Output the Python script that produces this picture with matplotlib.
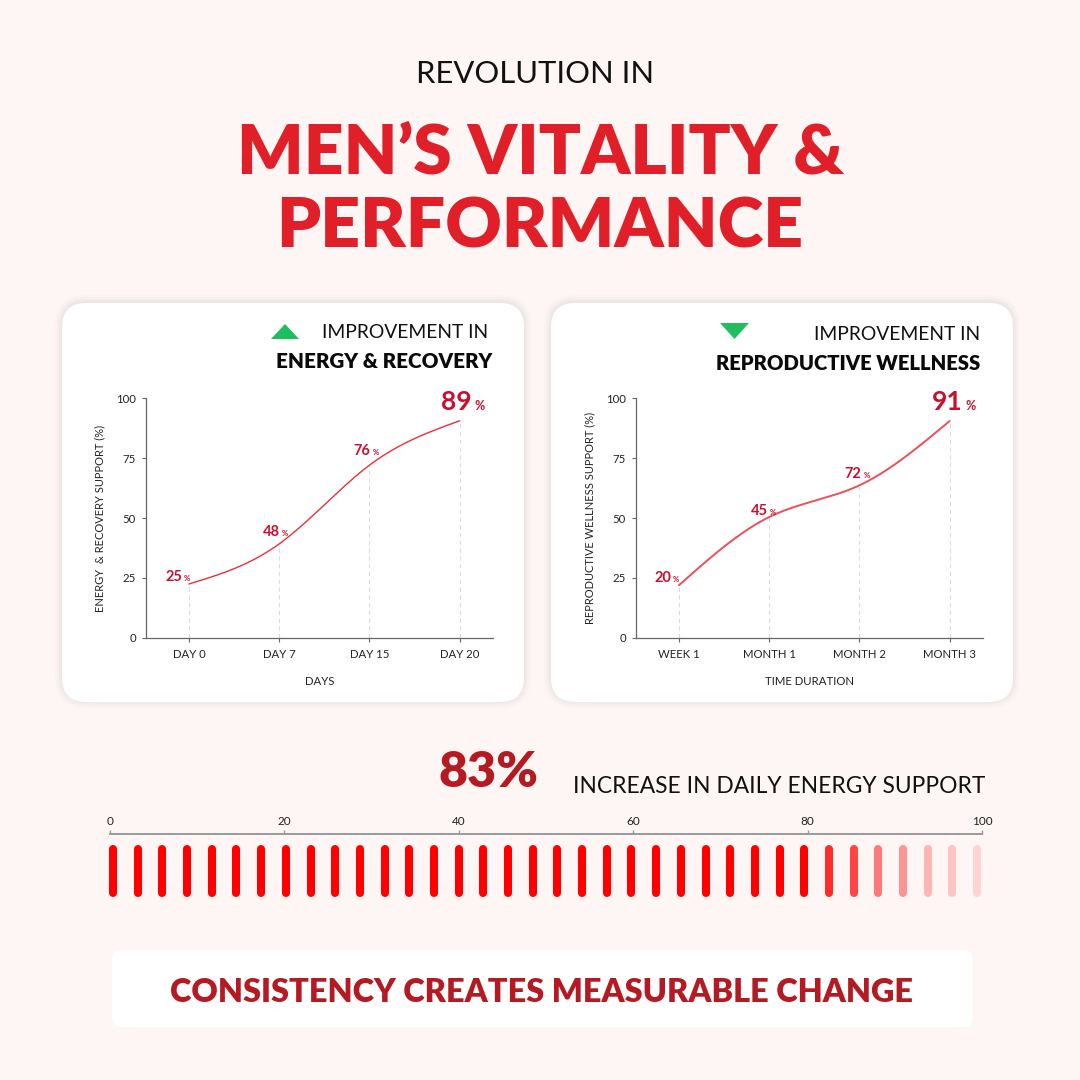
import numpy as np
import matplotlib
matplotlib.use("Agg")
import matplotlib.pyplot as plt
from matplotlib.patches import FancyBboxPatch, Polygon

# ---------------- data ----------------
energy_days = ["DAY 0", "DAY 7", "DAY 15", "DAY 20"]
energy_line = [22.5, 39.2, 72, 90.5]
energy_labels = [25, 48, 76, 89]

repro_periods = ["WEEK 1", "MONTH 1", "MONTH 2", "MONTH 3"]
repro_line = [22, 50.4, 63.6, 90.4]
repro_labels = [20, 45, 72, 91]

yticks = [0, 25, 50, 75, 100]
scale_ticks = [0, 20, 40, 60, 80, 100]
energy_increase = 83
n_bars = 36
tail_alphas = [0.82, 0.72, 0.5, 0.4, 0.26, 0.2, 0.14]

# ---------------- style ----------------
W = 1080
BG = "#FEF6F5"
RED = "#E11F28"
DARKRED = "#B51A22"
LABELRED = "#C8102E"
LINERED = "#E8303A"
GREEN = "#1FBF5F"
FONT = ["Lato", "DejaVu Sans"]

fig = plt.figure(figsize=(10.8, 10.8), dpi=100, facecolor=BG)


def fx(px):
    return px / W


def fy(py):
    return 1 - py / W


def ftext(x, y, s, **kw):
    kw.setdefault("family", FONT)
    return fig.text(fx(x), fy(y), s, **kw)


def card(x0, y0, x1, y1, r=24, shadow=True):
    if shadow:
        for e, a in [(7, 0.02), (5, 0.03), (3, 0.04), (1.5, 0.05)]:
            p = FancyBboxPatch((fx(x0 - e), fy(y1 + e - 1)), (x1 - x0 + 2 * e) / W,
                               (y1 - y0 + 2 * e) / W,
                               boxstyle=f"round,pad=0,rounding_size={(r + e) / W}",
                               transform=fig.transFigure, facecolor="#8a8a8a",
                               alpha=a, edgecolor="none", zorder=0)
            fig.add_artist(p)
    p = FancyBboxPatch((fx(x0), fy(y1)), (x1 - x0) / W, (y1 - y0) / W,
                       boxstyle=f"round,pad=0,rounding_size={r / W}",
                       transform=fig.transFigure, facecolor="white",
                       edgecolor="none", zorder=0.5)
    fig.add_artist(p)


def natural_spline(y, n=300):
    """Smooth rendering of a series: natural cubic spline through its points."""
    y = np.asarray(y, float)
    k = len(y)
    x = np.arange(k, dtype=float)
    A = np.zeros((k, k))
    b = np.zeros(k)
    A[0, 0] = A[-1, -1] = 1
    for i in range(1, k - 1):
        A[i, i - 1], A[i, i], A[i, i + 1] = 1, 4, 1
        b[i] = 6 * (y[i + 1] - 2 * y[i] + y[i - 1])
    M = np.linalg.solve(A, b)
    xs = np.linspace(x[0], x[-1], n)
    idx = np.clip(np.floor(xs).astype(int), 0, k - 2)
    t = xs - x[idx]
    u = 1 - t
    ys = (M[idx] * u**3 / 6 + M[idx + 1] * t**3 / 6
          + (y[idx] - M[idx] / 6) * u + (y[idx + 1] - M[idx + 1] / 6) * t)
    return xs, ys


# ---------------- titles ----------------
ftext(535, 83, "REVOLUTION IN", ha="center", va="baseline", fontsize=22.3, color="#111111")
ftext(541, 173, "MEN’S VITALITY &", ha="center", va="baseline", fontsize=50,
      fontweight="heavy", color=RED)
ftext(540, 247, "PERFORMANCE", ha="center", va="baseline", fontsize=50,
      fontweight="heavy", color=RED)

# ---------------- cards ----------------
card(62, 303, 524, 702)
card(551, 303, 1013, 702)


def line_panel(ax_px, cats, line, labels, xlabel, ylabel, offsets, lw, alpha):
    x0, y0, x1, y1 = ax_px
    ax = fig.add_axes([fx(x0), fy(y1), (x1 - x0) / W, (y1 - y0) / W])
    ax.set_facecolor("none")
    ax.set_zorder(2)
    xi = np.arange(len(cats))
    ax.set_xlim(-0.476, 3.37)
    ax.set_ylim(0, 100)
    ax.vlines(xi, 0, line, colors="#DCDCDC", linestyles=(0, (4, 3)), lw=0.8, zorder=1)
    xs, ys = natural_spline(line)
    ax.plot(xs, ys, color=LINERED, lw=lw, alpha=alpha, solid_capstyle="round", zorder=3)
    for s in ["top", "right"]:
        ax.spines[s].set_visible(False)
    for s in ["left", "bottom"]:
        ax.spines[s].set_color("#666666")
        ax.spines[s].set_linewidth(0.9)
    ax.set_xticks(xi)
    ax.set_xticklabels(cats, family=FONT, fontsize=8.2, color="#222222")
    ax.set_yticks(yticks)
    ax.set_yticklabels([str(v) for v in yticks], family=FONT, fontsize=8.2, color="#222222")
    ax.tick_params(axis="both", length=3.2, width=0.8, color="#666666")
    ax.tick_params(axis="x", pad=4.5)
    ax.tick_params(axis="y", pad=4)
    ax.set_xlabel(xlabel, family=FONT, fontsize=8.2, color="#222222", va="center")
    ax.xaxis.set_label_coords(0.5, -0.183)
    ax.set_ylabel(ylabel, family=FONT, fontsize=8.0, color="#222222", va="center")
    ax.yaxis.set_label_coords(-0.1326, 0.5)
    n = len(cats)
    for i, (v, lab) in enumerate(zip(line, labels)):
        dx, dy = offsets[i]
        big = i == n - 1
        fs = 19 if big else 10.5
        pfs = 9 if big else 5.5
        ax.annotate(str(lab), xy=(i, v), xytext=(dx * 0.72, dy * 0.72),
                    textcoords="offset points", ha="right", va="baseline",
                    fontsize=fs, fontweight="bold", color=LABELRED, family=FONT, zorder=4)
        ax.annotate("%", xy=(i, v), xytext=((dx + (3 if big else 2)) * 0.72, dy * 0.72),
                    textcoords="offset points", ha="left", va="baseline",
                    fontsize=pfs, fontweight="bold", color=LABELRED, family=FONT, zorder=4)
    return ax


# left panel
tri = Polygon([[fx(271), fy(339)], [fx(299), fy(339)], [fx(285), fy(324)]], closed=True,
              transform=fig.transFigure, facecolor=GREEN, edgecolor="none", zorder=3)
fig.add_artist(tri)
ftext(488, 338, "IMPROVEMENT IN", ha="right", va="baseline", fontsize=13.9, color="#111111")
ftext(492, 368, "ENERGY & RECOVERY", ha="right", va="baseline", fontsize=14.9,
      fontweight="heavy", color="#0A0A0A")
line_panel((146, 398, 493, 638), energy_days, energy_line, energy_labels, "DAYS",
           "ENERGY  & RECOVERY SUPPORT (%)",
           [(-7, 3), (1, 8), (1, 10), (12, 11)], 1.0, 1.0)

# right panel
tri2 = Polygon([[fx(720), fy(323)], [fx(749), fy(323)], [fx(734.5), fy(339)]], closed=True,
               transform=fig.transFigure, facecolor=GREEN, edgecolor="none", zorder=3)
fig.add_artist(tri2)
ftext(980, 340, "IMPROVEMENT IN", ha="right", va="baseline", fontsize=13.9, color="#111111")
ftext(980, 370, "REPRODUCTIVE WELLNESS", ha="right", va="baseline", fontsize=14.6,
      fontweight="heavy", color="#0A0A0A")
line_panel((636, 398, 983, 638), repro_periods, repro_line, repro_labels, "TIME DURATION",
           "REPRODUCTIVE WELLNESS SUPPORT (%)",
           [(-8, 3), (-1, 2), (2, 7), (13, 11)], 1.4, 0.85)

# ---------------- energy strip ----------------
ftext(438, 787, f"{energy_increase}%", ha="left", va="baseline", fontsize=36,
      fontweight="heavy", color=DARKRED)
ftext(985, 793, "INCREASE IN DAILY ENERGY SUPPORT", ha="right", va="baseline",
      fontsize=16.4, color="#111111")

sax = fig.add_axes([fx(110), fy(840), (982 - 110) / W, 6 / W])
sax.set_facecolor("none")
sax.set_xlim(0, 100)
sax.set_ylim(0, 1)
for s in ["bottom", "left", "right"]:
    sax.spines[s].set_visible(False)
sax.spines["top"].set_color("#9A9A9A")
sax.spines["top"].set_linewidth(1.4)
sax.xaxis.set_ticks_position("top")
sax.set_xticks(scale_ticks)
sax.set_xticklabels([str(v) for v in scale_ticks], family=FONT, fontsize=8.5, color="#222222")
sax.tick_params(axis="x", direction="out", length=3, width=1, color="#9A9A9A", pad=2)
sax.set_yticks([])

bax = fig.add_axes([fx(110), fy(893), (982 - 110) / W, (893 - 849) / W])
bax.set_facecolor("none")
bax.axis("off")
bax.set_xlim(-3 / 24.69, (982 - 113) / 24.69)
bax.set_ylim(0, 1)
alphas = [1.0] * (n_bars - len(tail_alphas)) + tail_alphas
for i in range(n_bars):
    bax.plot([i, i], [0, 1], color="#FF0000", alpha=alphas[i], lw=5.8,
             solid_capstyle="round", clip_on=False)

# ---------------- bottom banner ----------------
card(112, 950, 973, 1027, r=9, shadow=False)
ftext(542, 1002, "CONSISTENCY CREATES MEASURABLE CHANGE", ha="center", va="baseline",
      fontsize=23.4, fontweight="heavy", color=DARKRED)

fig.savefig("out.png", dpi=100, facecolor=BG)
